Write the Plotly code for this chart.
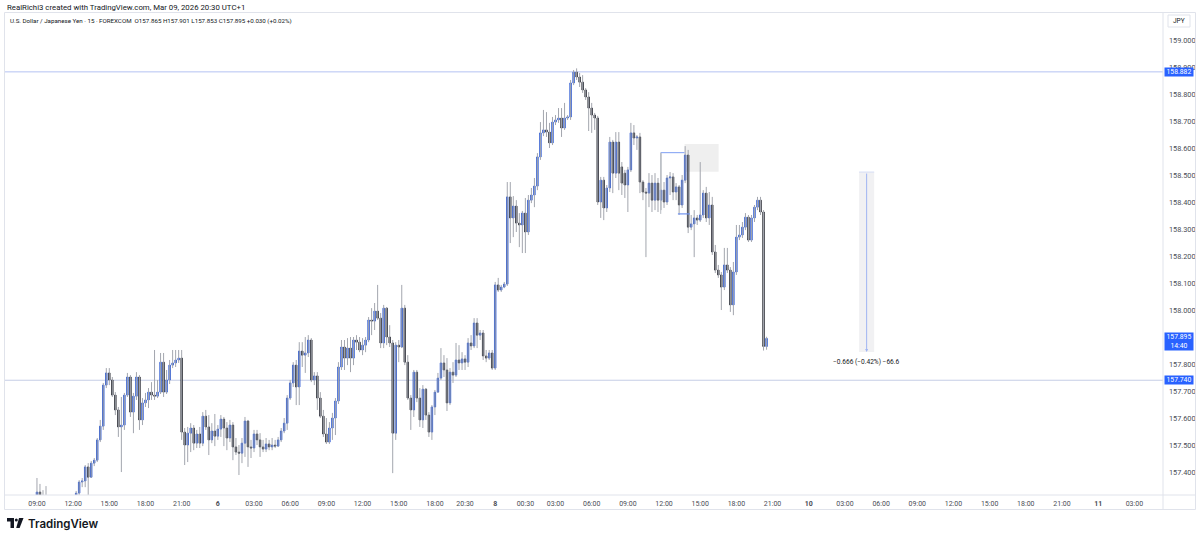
import pandas as pd
import plotly.graph_objects as go

# ---------------- data (USD/JPY, 15 min, FOREXCOM) ----------------
opens = [
    157.315, 157.326, 157.307, 157.285, 157.296, 157.270, 157.282, 157.268, 157.252, 157.274,
    157.290, 157.280, 157.296, 157.305, 157.322, 157.363, 157.367, 157.419, 157.381, 157.433,
    157.444, 157.519, 157.570, 157.722, 157.767, 157.741, 157.685, 157.630, 157.567, 157.574,
    157.685, 157.752, 157.622, 157.681, 157.752, 157.593, 157.656, 157.667, 157.696, 157.685,
    157.681, 157.696, 157.807, 157.696, 157.741, 157.796, 157.804, 157.815, 157.822, 157.548,
    157.500, 157.544, 157.563, 157.507, 157.541, 157.507, 157.607, 157.567, 157.519, 157.552,
    157.533, 157.559, 157.596, 157.563, 157.526, 157.574, 157.493, 157.474, 157.470, 157.507,
    157.589, 157.493, 157.489, 157.541, 157.519, 157.493, 157.485, 157.504, 157.493, 157.500,
    157.496, 157.519, 157.552, 157.581, 157.674, 157.730, 157.796, 157.715, 157.848, 157.833,
    157.841, 157.889, 157.741, 157.756, 157.674, 157.607, 157.541, 157.511, 157.563, 157.600,
    157.663, 157.789, 157.863, 157.822, 157.859, 157.822, 157.889, 157.881, 157.852, 157.870,
    157.889, 157.963, 157.959, 157.996, 157.970, 157.878, 158.007, 157.900, 157.878, 157.544,
    157.870, 157.863, 158.007, 157.807, 157.674, 157.630, 157.770, 157.674, 157.593, 157.707,
    157.611, 157.548, 157.641, 157.696, 157.748, 157.804, 157.778, 157.656, 157.770, 157.759,
    157.815, 157.804, 157.819, 157.807, 157.878, 157.867, 157.952, 157.907, 157.915, 157.830,
    157.822, 157.841, 157.785, 158.093, 158.074, 158.085, 158.096, 158.419, 158.341, 158.385,
    158.322, 158.315, 158.359, 158.289, 158.407, 158.426, 158.459, 158.567, 158.656, 158.667,
    158.659, 158.619, 158.696, 158.704, 158.711, 158.674, 158.711, 158.715, 158.841, 158.881,
    158.863, 158.844, 158.815, 158.789, 158.748, 158.722, 158.711, 158.400, 158.481, 158.378,
    158.452, 158.622, 158.507, 158.622, 158.530, 158.507, 158.463, 158.519, 158.656, 158.637,
    158.641, 158.474, 158.437, 158.433, 158.470, 158.407, 158.470, 158.407, 158.444, 158.400,
    158.489, 158.493, 158.437, 158.456, 158.389, 158.481, 158.574, 158.307, 158.319, 158.341,
    158.333, 158.352, 158.433, 158.341, 158.389, 158.215, 158.148, 158.130, 158.085, 158.167,
    158.148, 158.019, 158.141, 158.270, 158.278, 158.307, 158.344, 158.259, 158.341, 158.381,
    158.407, 158.363, 157.865,
]
highs = [
    157.378, 157.356, 157.333, 157.348, 157.305, 157.290, 157.300, 157.285, 157.278, 157.298,
    157.306, 157.300, 157.312, 157.330, 157.370, 157.378, 157.426, 157.433, 157.441, 157.452,
    157.526, 157.593, 157.730, 157.785, 157.785, 157.752, 157.696, 157.641, 157.678, 157.693,
    157.767, 157.759, 157.693, 157.770, 157.759, 157.674, 157.693, 157.711, 157.733, 157.852,
    157.741, 157.841, 157.841, 157.778, 157.815, 157.852, 157.852, 157.852, 157.852, 157.563,
    157.567, 157.581, 157.574, 157.556, 157.567, 157.622, 157.630, 157.611, 157.581, 157.615,
    157.574, 157.611, 157.604, 157.585, 157.593, 157.585, 157.526, 157.500, 157.526, 157.604,
    157.593, 157.519, 157.556, 157.556, 157.544, 157.519, 157.526, 157.519, 157.526, 157.519,
    157.530, 157.563, 157.600, 157.685, 157.741, 157.807, 157.815, 157.881, 157.881, 157.900,
    157.907, 157.896, 157.770, 157.770, 157.696, 157.630, 157.600, 157.585, 157.619, 157.674,
    157.807, 157.889, 157.889, 157.896, 157.900, 157.900, 157.907, 157.900, 157.896, 157.900,
    157.974, 158.007, 158.026, 158.093, 157.989, 158.019, 158.011, 157.944, 157.889, 157.881,
    157.889, 158.093, 158.019, 157.833, 157.685, 157.778, 157.778, 157.711, 157.722, 157.711,
    157.622, 157.648, 157.704, 157.767, 157.859, 157.833, 157.822, 157.785, 157.807, 157.878,
    157.870, 157.844, 157.833, 157.896, 157.907, 157.970, 157.970, 157.926, 157.926, 157.852,
    157.852, 157.852, 158.104, 158.119, 158.093, 158.104, 158.474, 158.474, 158.422, 158.407,
    158.359, 158.367, 158.415, 158.426, 158.452, 158.489, 158.581, 158.696, 158.741, 158.733,
    158.693, 158.715, 158.722, 158.748, 158.748, 158.767, 158.722, 158.852, 158.889, 158.895,
    158.878, 158.870, 158.822, 158.807, 158.767, 158.730, 158.719, 158.493, 158.493, 158.463,
    158.641, 158.630, 158.659, 158.659, 158.548, 158.519, 158.530, 158.693, 158.685, 158.648,
    158.656, 158.481, 158.452, 158.507, 158.500, 158.507, 158.489, 158.581, 158.474, 158.500,
    158.511, 158.507, 158.470, 158.463, 158.500, 158.607, 158.593, 158.352, 158.370, 158.352,
    158.548, 158.444, 158.456, 158.437, 158.419, 158.241, 158.167, 158.141, 158.230, 158.230,
    158.159, 158.178, 158.315, 158.315, 158.326, 158.359, 158.352, 158.352, 158.389, 158.419,
    158.419, 158.370, 157.901,
]
lows = [
    157.296, 157.278, 157.259, 157.267, 157.262, 157.255, 157.262, 157.240, 157.245, 157.265,
    157.270, 157.268, 157.285, 157.298, 157.311, 157.344, 157.344, 157.315, 157.378, 157.422,
    157.437, 157.511, 157.556, 157.711, 157.722, 157.678, 157.611, 157.530, 157.400, 157.556,
    157.678, 157.604, 157.544, 157.667, 157.556, 157.574, 157.641, 157.637, 157.667, 157.667,
    157.674, 157.689, 157.678, 157.689, 157.726, 157.785, 157.789, 157.804, 157.519, 157.426,
    157.437, 157.474, 157.481, 157.489, 157.489, 157.496, 157.556, 157.463, 157.507, 157.496,
    157.519, 157.530, 157.496, 157.481, 157.511, 157.444, 157.463, 157.389, 157.433, 157.456,
    157.419, 157.452, 157.474, 157.500, 157.456, 157.474, 157.474, 157.481, 157.481, 157.489,
    157.493, 157.511, 157.544, 157.556, 157.667, 157.715, 157.648, 157.648, 157.789, 157.767,
    157.826, 157.733, 157.722, 157.630, 157.600, 157.530, 157.504, 157.504, 157.519, 157.537,
    157.652, 157.778, 157.778, 157.796, 157.770, 157.796, 157.852, 157.844, 157.833, 157.844,
    157.881, 157.907, 157.926, 157.963, 157.859, 157.859, 157.870, 157.863, 157.396, 157.519,
    157.807, 157.859, 157.796, 157.667, 157.556, 157.604, 157.659, 157.567, 157.563, 157.593,
    157.530, 157.519, 157.611, 157.693, 157.741, 157.752, 157.626, 157.648, 157.730, 157.752,
    157.778, 157.778, 157.778, 157.789, 157.852, 157.859, 157.859, 157.889, 157.815, 157.807,
    157.815, 157.778, 157.778, 158.067, 158.067, 158.081, 158.089, 158.248, 158.270, 158.289,
    158.233, 158.211, 158.211, 158.278, 158.396, 158.381, 158.444, 158.556, 158.644, 158.641,
    158.600, 158.611, 158.685, 158.693, 158.641, 158.667, 158.704, 158.704, 158.833, 158.852,
    158.826, 158.804, 158.778, 158.663, 158.656, 158.667, 158.389, 158.341, 158.333, 158.363,
    158.437, 158.433, 158.489, 158.444, 158.426, 158.415, 158.363, 158.511, 158.611, 158.593,
    158.433, 158.407, 158.196, 158.381, 158.363, 158.370, 158.363, 158.370, 158.378, 158.389,
    158.426, 158.407, 158.407, 158.352, 158.378, 158.470, 158.285, 158.296, 158.196, 158.315,
    158.326, 158.341, 158.326, 158.315, 158.204, 158.137, 158.119, 158.000, 158.074, 158.137,
    157.993, 157.981, 158.130, 158.259, 158.267, 158.296, 158.252, 158.252, 158.326, 158.370,
    158.352, 157.850, 157.853,
]
closes = [
    157.326, 157.307, 157.285, 157.296, 157.270, 157.282, 157.268, 157.252, 157.274, 157.290,
    157.280, 157.296, 157.305, 157.322, 157.363, 157.367, 157.419, 157.381, 157.433, 157.444,
    157.519, 157.570, 157.722, 157.767, 157.741, 157.685, 157.630, 157.567, 157.574, 157.685,
    157.752, 157.622, 157.681, 157.752, 157.593, 157.656, 157.667, 157.696, 157.685, 157.681,
    157.696, 157.807, 157.696, 157.741, 157.796, 157.804, 157.815, 157.822, 157.548, 157.500,
    157.544, 157.563, 157.507, 157.541, 157.507, 157.607, 157.567, 157.519, 157.552, 157.533,
    157.559, 157.596, 157.563, 157.526, 157.574, 157.493, 157.474, 157.470, 157.507, 157.589,
    157.493, 157.489, 157.541, 157.519, 157.493, 157.485, 157.504, 157.493, 157.500, 157.496,
    157.519, 157.552, 157.581, 157.674, 157.730, 157.796, 157.715, 157.848, 157.833, 157.841,
    157.889, 157.741, 157.756, 157.674, 157.607, 157.541, 157.511, 157.563, 157.600, 157.663,
    157.789, 157.863, 157.822, 157.859, 157.822, 157.889, 157.881, 157.852, 157.870, 157.889,
    157.963, 157.959, 157.996, 157.970, 157.878, 158.007, 157.900, 157.878, 157.544, 157.870,
    157.863, 158.007, 157.807, 157.674, 157.630, 157.770, 157.674, 157.593, 157.707, 157.611,
    157.548, 157.641, 157.696, 157.748, 157.804, 157.778, 157.656, 157.770, 157.759, 157.815,
    157.804, 157.819, 157.807, 157.878, 157.867, 157.952, 157.907, 157.915, 157.830, 157.822,
    157.841, 157.785, 158.093, 158.074, 158.085, 158.096, 158.419, 158.341, 158.385, 158.322,
    158.315, 158.359, 158.289, 158.407, 158.426, 158.459, 158.567, 158.656, 158.667, 158.659,
    158.619, 158.696, 158.704, 158.711, 158.674, 158.711, 158.715, 158.841, 158.881, 158.863,
    158.844, 158.815, 158.789, 158.748, 158.722, 158.711, 158.400, 158.481, 158.378, 158.452,
    158.622, 158.507, 158.622, 158.507, 158.470, 158.463, 158.519, 158.656, 158.637, 158.641,
    158.474, 158.437, 158.433, 158.470, 158.407, 158.470, 158.407, 158.444, 158.400, 158.489,
    158.493, 158.437, 158.456, 158.389, 158.481, 158.574, 158.307, 158.319, 158.341, 158.333,
    158.352, 158.433, 158.341, 158.389, 158.215, 158.148, 158.130, 158.085, 158.167, 158.148,
    158.019, 158.141, 158.270, 158.278, 158.307, 158.344, 158.259, 158.341, 158.381, 158.407,
    158.363, 157.865, 157.895,
]

# sessions (weekend removed, bars are evenly spaced like TradingView)
session_starts = ["2026-03-05 09:00", "2026-03-08 22:00"]
session_bars = [152, 232]

tick_times = [
    "2026-03-05 09:00", "2026-03-05 12:00", "2026-03-05 15:00", "2026-03-05 18:00", "2026-03-05 21:00",
    "2026-03-06 00:00", "2026-03-06 03:00", "2026-03-06 06:00", "2026-03-06 09:00", "2026-03-06 12:00",
    "2026-03-06 15:00", "2026-03-06 18:00", "2026-03-06 20:30", "2026-03-08 22:00", "2026-03-09 00:30",
    "2026-03-09 03:00", "2026-03-09 06:00", "2026-03-09 09:00", "2026-03-09 12:00", "2026-03-09 15:00",
    "2026-03-09 18:00", "2026-03-09 21:00", "2026-03-10 00:00", "2026-03-10 03:00", "2026-03-10 06:00",
    "2026-03-10 09:00", "2026-03-10 12:00", "2026-03-10 15:00", "2026-03-10 18:00", "2026-03-10 21:00",
    "2026-03-11 00:00", "2026-03-11 03:00",
]
tick_labels = [
    "09:00", "12:00", "15:00", "18:00", "21:00", "<b>6</b>", "03:00", "06:00", "09:00", "12:00",
    "15:00", "18:00", "20:30", "<b>8</b>", "00:30", "03:00", "06:00", "09:00", "12:00", "15:00",
    "18:00", "21:00", "<b>10</b>", "03:00", "06:00", "09:00", "12:00", "15:00", "18:00", "21:00",
    "<b>11</b>", "03:00",
]
price_ticks = [157.4, 157.5, 157.6, 157.7, 157.8, 158.0, 158.1, 158.2, 158.3,
               158.4, 158.5, 158.6, 158.7, 158.8, 158.9, 159.0]

level_lines = [158.882, 157.740]
countdown = "14:40"
measure_top, measure_bottom = 158.511, 157.845
measure_text = "\u22120.666 (\u22120.42%) \u221266.6"
header_1 = "RealRichi3 created with TradingView.com, Mar 09, 2026 20:30 UTC+1"
header_2 = ("U.S. Dollar / Japanese Yen \u00b7 15 \u00b7 FOREXCOM  "
            "O157.865 H157.901 L157.853 C157.895 +0.030 (+0.02%)")

# ---------------- build ----------------
times = []
for s, n in zip(session_starts, session_bars):
    times += list(pd.date_range(s, periods=n, freq="15min"))
bar_of = {t.strftime("%Y-%m-%d %H:%M"): i for i, t in enumerate(times)}
x = list(range(len(closes)))
tick_vals = [bar_of[t] for t in tick_times]

BLUE = "#1f4fd0"
DARK = "#181b23"
WICK = "#a3a6ae"
TVBLUE = "#2962ff"
FONT = "Roboto"
TXT = "#4a4d56"

# pixel helpers for decorations (plot area 5..1163 x 13..495)
def fx(p):
    return (p - 5) / 1158.0

def fy(p):
    return (495 - p) / 482.0

wx, wy = [], []
for i, h, l in zip(x, highs, lows):
    wx += [i, i, None]
    wy += [l, h, None]

fig = go.Figure()
fig.add_trace(go.Scatter(x=wx, y=wy, mode="lines", line=dict(color=WICK, width=1),
                         hoverinfo="skip", showlegend=False))
body_hi = [max(o, c) for o, c in zip(opens, closes)]
body_lo = [min(o, c) for o, c in zip(opens, closes)]
fig.add_trace(go.Candlestick(
    x=x, open=opens, high=body_hi, low=body_lo, close=closes,
    increasing=dict(fillcolor=BLUE, line=dict(color=BLUE, width=0.8)),
    decreasing=dict(fillcolor=DARK, line=dict(color=DARK, width=0.8)),
    whiskerwidth=0, showlegend=False, hoverinfo="skip"))

shapes = []
# level lines
for lv, col in zip(level_lines, ["#b4c3f2", "#c5cde6"]):
    shapes.append(dict(type="line", xref="paper", yref="y", x0=0, x1=1, y0=lv, y1=lv,
                       line=dict(color=col, width=1), layer="below"))
# drawing near Mar 9 midday
b0 = bar_of["2026-03-09 11:45"]
shapes.append(dict(type="rect", xref="x", yref="y", x0=b0 + 7.8, x1=b0 + 19.1,
                   y0=158.512, y1=158.615, fillcolor="#efefef", line=dict(width=0), layer="below"))
shapes.append(dict(type="line", xref="x", yref="y", x0=b0 - 0.1, x1=b0 + 7.8, y0=158.583, y1=158.583,
                   line=dict(color="#93aef5", width=1.2)))
shapes.append(dict(type="line", xref="x", yref="y", x0=b0 - 0.1, x1=b0 - 0.1, y0=158.583, y1=158.356,
                   line=dict(color="#b8bbc2", width=1)))
shapes.append(dict(type="line", xref="x", yref="y", x0=b0 + 5.6, x1=b0 + 9.6, y0=158.356, y1=158.356,
                   line=dict(color="#6f93f0", width=1.2)))
# measure tool
m0 = bar_of["2026-03-10 04:15"] - 0.3
m1 = bar_of["2026-03-10 05:30"] - 0.3
mc = (m0 + m1) / 2
shapes.append(dict(type="rect", xref="x", yref="y", x0=m0, x1=m1, y0=measure_bottom, y1=measure_top,
                   fillcolor="#f1f1f3", line=dict(width=0), layer="below"))
shapes.append(dict(type="line", xref="x", yref="y", x0=m0, x1=m1, y0=measure_top, y1=measure_top,
                   line=dict(color="#d6ddf5", width=1)))
# frame lines
frame = "#e0e3eb"
shapes.append(dict(type="rect", xref="paper", yref="paper", x0=fx(4.5), x1=fx(1195.5), y0=fy(509.5), y1=fy(12.5),
                   line=dict(color=frame, width=1)))
shapes.append(dict(type="line", xref="paper", yref="paper", x0=fx(1163), x1=fx(1163), y0=fy(509.5), y1=fy(12.5),
                   line=dict(color=frame, width=1)))
shapes.append(dict(type="line", xref="paper", yref="paper", x0=fx(4.5), x1=fx(1195.5), y0=fy(495), y1=fy(495),
                   line=dict(color=frame, width=1)))
# JPY box
shapes.append(dict(type="rect", xref="paper", yref="paper", x0=fx(1168), x1=fx(1190), y0=fy(27), y1=fy(15),
                   line=dict(color=frame, width=1), fillcolor="white"))
# TradingView logo
logo = "#131722"
shapes.append(dict(type="rect", xref="paper", yref="paper", x0=fx(7), x1=fx(14), y0=fy(521.5), y1=fy(518),
                   fillcolor=logo, line=dict(width=0)))
shapes.append(dict(type="rect", xref="paper", yref="paper", x0=fx(10.5), x1=fx(14), y0=fy(528), y1=fy(518),
                   fillcolor=logo, line=dict(width=0)))
shapes.append(dict(type="circle", xref="paper", yref="paper", x0=fx(14.8), x1=fx(17.8), y0=fy(521.5), y1=fy(518.5),
                   fillcolor=logo, line=dict(width=0)))
shapes.append(dict(type="path", xref="paper", yref="paper",
                   path=f"M {fx(19)} {fy(518)} L {fx(23.5)} {fy(518)} L {fx(19.6)} {fy(528)} L {fx(16.2)} {fy(528)} Z",
                   fillcolor=logo, line=dict(width=0)))

ann = []
ann.append(dict(text=header_1, xref="paper", yref="paper", x=fx(5), y=fy(7), xanchor="left", yanchor="middle",
                showarrow=False, font=dict(family=FONT, size=7.8, color="#131722")))
ann.append(dict(text=header_2, xref="paper", yref="paper", x=fx(8), y=fy(21), xanchor="left", yanchor="middle",
                showarrow=False, font=dict(family=FONT, size=6.2, color="#131722")))
ann.append(dict(text="JPY", xref="paper", yref="paper", x=fx(1179), y=fy(21), xanchor="center", yanchor="middle",
                showarrow=False, font=dict(family=FONT, size=6.5, color="#131722")))
# price-scale labels
for lv in level_lines:
    ann.append(dict(text=f"{lv:.3f}", xref="paper", yref="y", x=fx(1164), y=lv, xanchor="left", yanchor="middle",
                    showarrow=False, bgcolor=TVBLUE, width=28, height=8, borderpad=0,
                    font=dict(family=FONT, size=6.8, color="white")))
ann.append(dict(text=f"{closes[-1]:.3f}<br>{countdown}", xref="paper", yref="y", x=fx(1164), y=closes[-1],
                xanchor="left", yanchor="top", yshift=6, showarrow=False, bgcolor=TVBLUE, width=28, height=17,
                borderpad=0, font=dict(family=FONT, size=6.8, color="white")))
# measure arrow + text
ann.append(dict(x=mc, y=measure_bottom, ax=mc, ay=measure_top, xref="x", yref="y", axref="x", ayref="y",
                text="", showarrow=True, arrowhead=2, arrowsize=0.6, arrowwidth=1, arrowcolor="#9fb4f2"))
ann.append(dict(text=measure_text, xref="x", yref="y", x=mc, y=measure_bottom, yshift=-10, xanchor="center",
                yanchor="middle", showarrow=False, font=dict(family=FONT, size=6.6, color="#131722")))
ann.append(dict(text="TradingView", xref="paper", yref="paper", x=fx(25.5), y=fy(523.5), xanchor="left",
                yanchor="middle", showarrow=False,
                font=dict(family="Inter", size=11.5, color=logo, weight=600)))

fig.update_layout(
    width=1200, height=539,
    margin=dict(l=5, r=37, t=13, b=44, autoexpand=False),
    paper_bgcolor="white", plot_bgcolor="white",
    showlegend=False, hovermode=False,
    shapes=shapes, annotations=ann,
    xaxis=dict(range=[-10.6, 373.5], showgrid=False, zeroline=False, rangeslider=dict(visible=False),
               tickmode="array", tickvals=tick_vals, ticktext=tick_labels, ticks="",
               tickfont=dict(family=FONT, size=7, color=TXT), showline=False, ticklabelstandoff=3,
               automargin=False),
    yaxis=dict(range=[157.315, 159.1], side="right", showgrid=False, zeroline=False,
               tickmode="array", tickvals=price_ticks, ticktext=[f"{v:.3f}" for v in price_ticks],
               ticks="", tickfont=dict(family=FONT, size=7.3, color=TXT), showline=False,
               ticklabelstandoff=5, automargin=False),
)

fig.write_html("out.html", config={"displayModeBar": False},
               post_script="document.body.style.margin='0';document.body.style.overflow='hidden';")
